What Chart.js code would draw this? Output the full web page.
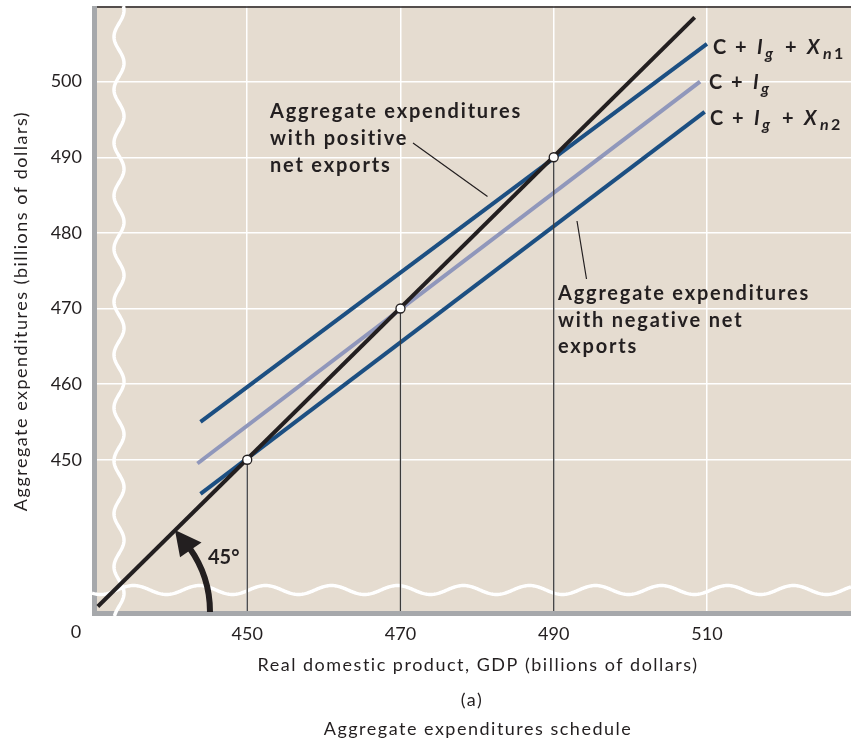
<!DOCTYPE html>
<html lang="en">
<head>
  <meta charset="UTF-8">
  <title>Aggregate expenditures schedule</title>
  <script src="https://cdn.jsdelivr.net/npm/chart.js"></script>
  <style>
    body {
      margin: 0;
      background-color: white;
    }
    canvas {
      display: block;
    }
  </style>
</head>
<body>
  <canvas id="aeChart" width="851" height="742"></canvas>
  <script>
    // axis ticks
    const xTicks = [450, 470, 490, 510];
    const yTicks = [450, 460, 470, 480, 490, 500];

    // 45 degree line (start, end)
    const line45X = [430.5, 508.4];
    const line45Y = [430.6, 508.5];

    // C + Ig
    const cigX = [443.5, 509.1];
    const cigY = [449.5, 500.0];

    // C + Ig + Xn1 (positive net exports)
    const xn1X = [443.9, 510.0];
    const xn1Y = [455.0, 505.0];

    // C + Ig + Xn2 (negative net exports)
    const xn2X = [443.9, 509.7];
    const xn2Y = [445.5, 496.0];

    // equilibrium points
    const eqX = [450, 470, 490];
    const eqY = [450, 470, 490];

    const ink = '#231f20';
    const blue = '#1c4f82';
    const lavender = '#9097bb';
    const beige = '#e5dcd0';
    const frameGray = '#a6a8ab';
    const fontFamily = 'Lato, "Open Sans", sans-serif';

    function pts(xs, ys) {
      return xs.map((x, i) => ({ x: x, y: ys[i] }));
    }

    // vertical drop lines from each point down to the axis
    function dropLines() {
      const out = [];
      eqX.forEach((x, i) => {
        out.push({ x: x, y: 430 });
        out.push({ x: x, y: eqY[i] });
        out.push({ x: x, y: null });
      });
      return out;
    }

    function wavyH(ctx, y, x0, x1, amp, period, phase) {
      ctx.beginPath();
      for (let x = x0; x <= x1; x++) {
        const yy = y + amp * Math.sin(2 * Math.PI * (x - phase) / period);
        if (x === x0) ctx.moveTo(x, yy); else ctx.lineTo(x, yy);
      }
      ctx.stroke();
    }

    function wavyV(ctx, x, y0, y1, amp, period, phase) {
      ctx.beginPath();
      for (let y = y0; y <= y1; y++) {
        const xx = x + amp * Math.sin(2 * Math.PI * (y - phase) / period);
        if (y === y0) ctx.moveTo(xx, y); else ctx.lineTo(xx, y);
      }
      ctx.stroke();
    }

    // draws "C + Ig + Xn1" style labels, each piece at its own offset
    function drawRich(ctx, x, y, parts, size) {
      parts.forEach(p => {
        const s = p.sub ? size * 0.8 : size;
        ctx.font = (p.it ? 'italic ' : '') + 'bold ' + s + 'px ' + fontFamily;
        ctx.fillText(p.t, x + p.dx, p.sub ? y + 5 : y);
      });
    }

    const labelParts = [
      { t: 'C', dx: 0 }, { t: '+', dx: 22 }, { t: 'I', dx: 44, it: true },
      { t: 'g', dx: 52, it: true, sub: true }, { t: '+', dx: 72 },
      { t: 'X', dx: 94, it: true }, { t: 'n', dx: 110, it: true, sub: true }
    ];

    const backgroundPlugin = {
      id: 'background',
      beforeDraw(chart) {
        const { ctx, chartArea: a } = chart;
        ctx.save();
        ctx.fillStyle = beige;
        ctx.fillRect(a.left, a.top, a.right - a.left, a.bottom - a.top);
        ctx.restore();
      },
      beforeDatasetsDraw(chart) {
        const { ctx, chartArea: a } = chart;
        ctx.save();
        // top rule
        ctx.strokeStyle = ink;
        ctx.lineWidth = 1.5;
        ctx.beginPath();
        ctx.moveTo(a.left, a.top + 1);
        ctx.lineTo(a.right, a.top + 1);
        ctx.stroke();
        // gray frame left and bottom
        ctx.fillStyle = frameGray;
        ctx.fillRect(a.left - 2, a.top, 5, a.bottom - a.top + 4);
        ctx.fillRect(a.left - 2, a.bottom, a.right - a.left + 2, 5);
        // axis breaks
        ctx.strokeStyle = 'white';
        ctx.lineWidth = 3.5;
        wavyV(ctx, 119, a.top, a.bottom + 5, 5, 53, 50);
        wavyH(ctx, 590, a.left - 2, a.right, 4.5, 66, 150);
        ctx.restore();
      },
      afterDatasetsDraw(chart) {
        const { ctx } = chart;
        ctx.save();
        ctx.fillStyle = ink;
        ctx.strokeStyle = ink;

        // leader lines
        ctx.lineWidth = 1.2;
        ctx.beginPath();
        ctx.moveTo(413, 143);
        ctx.lineTo(487.5, 196.5);
        ctx.moveTo(577, 221);
        ctx.lineTo(586.5, 279);
        ctx.stroke();

        // 45 degree arrow
        const cx = 100, cy = 612, r = 110;
        ctx.lineWidth = 6;
        ctx.beginPath();
        ctx.arc(cx, cy, r, 0, -0.62, true);
        ctx.stroke();
        const tipA = 0.83, baseA = 0.6;
        ctx.beginPath();
        ctx.moveTo(cx + (r + 1) * Math.cos(tipA), cy - (r + 1) * Math.sin(tipA));
        ctx.lineTo(cx + (r - 13) * Math.cos(baseA), cy - (r - 13) * Math.sin(baseA));
        ctx.lineTo(cx + (r + 13) * Math.cos(baseA), cy - (r + 13) * Math.sin(baseA));
        ctx.closePath();
        ctx.fill();

        ctx.textAlign = 'left';
        ctx.textBaseline = 'alphabetic';
        ctx.font = 'bold 20px ' + fontFamily;
        ctx.fillText('45°', 208, 564);

        // annotations
        ctx.font = 'bold 20px ' + fontFamily;
        ctx.letterSpacing = '1.8px';
        ['Aggregate expenditures', 'with positive', 'net exports'].forEach((t, i) => {
          ctx.fillText(t, 270, 118 + i * 27);
        });
        ['Aggregate expenditures', 'with negative net', 'exports'].forEach((t, i) => {
          ctx.fillText(t, 558, 300 + i * 26.5);
        });
        ctx.letterSpacing = '0px';

        // line labels
        drawRich(ctx, 713, 54, labelParts.concat([{ t: '1', dx: 121, sub: true }]), 20);
        drawRich(ctx, 709, 89, labelParts.slice(0, 4), 20);
        drawRich(ctx, 710, 125, labelParts.concat([{ t: '2', dx: 121, sub: true }]), 20);

        // axis text
        ctx.font = '18px ' + fontFamily;
        ctx.textAlign = 'center';
        ctx.fillText('0', 76, 638);
        ctx.letterSpacing = '1.5px';
        ctx.fillText('Real domestic product, GDP (billions of dollars)', 478, 671);
        ctx.fillText('(a)', 472, 706);
        ctx.fillText('Aggregate expenditures schedule', 478, 735);

        ctx.translate(27, 311);
        ctx.rotate(-Math.PI / 2);
        ctx.fillText('Aggregate expenditures (billions of dollars)', 0, 0);
        ctx.restore();
      }
    };

    function createChart() {
      const ctx = document.getElementById('aeChart').getContext('2d');
      return new Chart(ctx, {
        type: 'scatter',
        data: {
          datasets: [
            { label: 'Equilibrium', data: pts(eqX, eqY), showLine: false, pointRadius: 4.5,
              pointBackgroundColor: 'white', pointBorderColor: ink, pointBorderWidth: 1.3 },
            { label: 'Drop', data: dropLines(), showLine: true, spanGaps: false, pointRadius: 0,
              borderColor: '#3b3a3a', borderWidth: 1.3 },
            { label: '45 degree', data: pts(line45X, line45Y), showLine: true, pointRadius: 0,
              borderColor: ink, borderWidth: 4 },
            { label: 'C + Ig + Xn1', data: pts(xn1X, xn1Y), showLine: true, pointRadius: 0,
              borderColor: blue, borderWidth: 4 },
            { label: 'C + Ig + Xn2', data: pts(xn2X, xn2Y), showLine: true, pointRadius: 0,
              borderColor: blue, borderWidth: 4 },
            { label: 'C + Ig', data: pts(cigX, cigY), showLine: true, pointRadius: 0,
              borderColor: lavender, borderWidth: 4 }
          ]
        },
        options: {
          responsive: false,
          animation: false,
          layout: { autoPadding: false, padding: { top: 6, right: 0, left: 0, bottom: 0 } },
          plugins: {
            legend: { display: false },
            tooltip: { enabled: false }
          },
          scales: {
            x: {
              type: 'linear',
              min: 430,
              max: 528.8,
              afterFit: s => {
                s.height = 131;
                s.paddingLeft = 0;
                s.paddingRight = 0;
              },
              afterBuildTicks: s => { s.ticks = xTicks.map(v => ({ value: v })); },
              grid: { color: 'white', lineWidth: 1.5, drawTicks: false },
              border: { display: false },
              ticks: { color: ink, font: { family: fontFamily, size: 18 }, padding: 12 }
            },
            y: {
              type: 'linear',
              min: 430,
              max: 510,
              afterFit: s => {
                s.width = 94;
                s.paddingTop = 0;
                s.paddingBottom = 0;
              },
              afterBuildTicks: s => { s.ticks = yTicks.map(v => ({ value: v })); },
              grid: { color: 'white', lineWidth: 1.5, drawTicks: false },
              border: { display: false },
              ticks: { color: ink, font: { family: fontFamily, size: 18 }, padding: 12 }
            }
          }
        },
        plugins: [backgroundPlugin]
      });
    }

    window.onload = function() {
      createChart();
    };
  </script>
</body>
</html>
